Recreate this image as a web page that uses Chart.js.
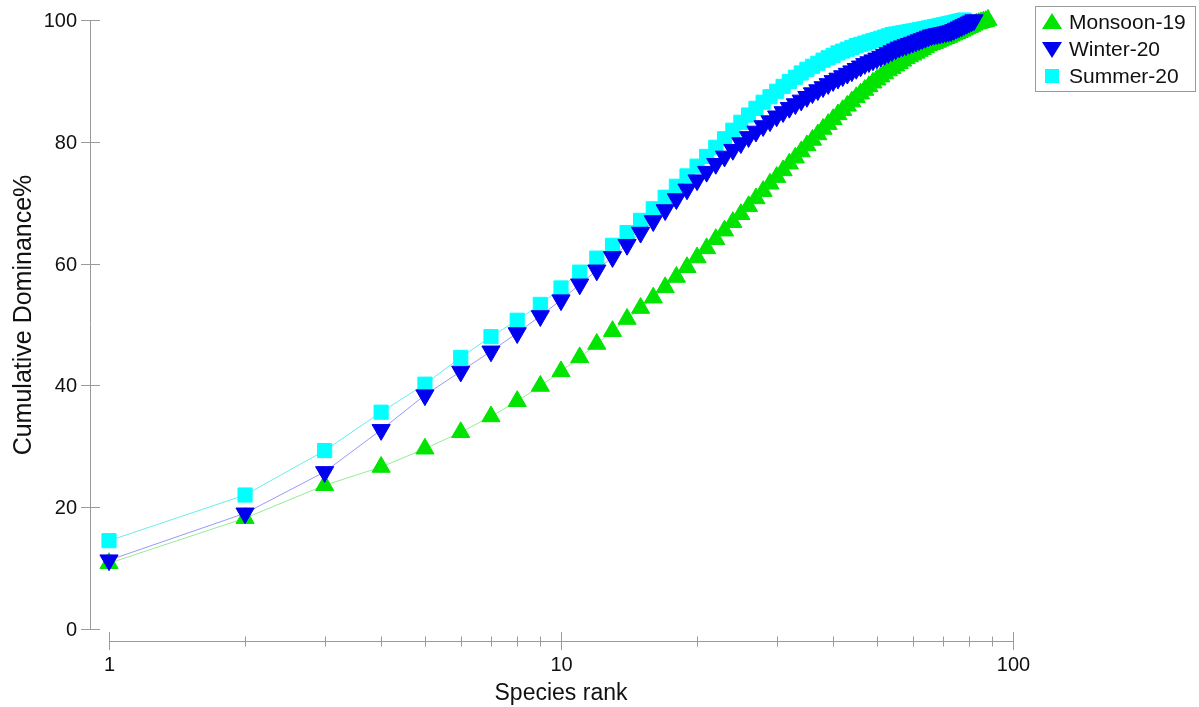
<!DOCTYPE html>
<html>
<head>
<meta charset="utf-8">
<script src="https://cdn.jsdelivr.net/npm/chart.js@4.4.1/dist/chart.umd.min.js"></script>
<style>
  html, body { margin: 0; padding: 0; background: #ffffff; }
  #wrap { width: 1199px; height: 707px; }
</style>
</head>
<body>
<div id="wrap"><canvas id="c" width="1199" height="707"></canvas></div>
<script>
// ---- data ----
const seriesNames = ["Monsoon-19", "Winter-20", "Summer-20"];

const monsoon19 = [10.8, 18.2, 23.6, 26.6, 29.6, 32.3, 34.9, 37.4, 39.9, 42.3,
  44.6, 46.8, 48.9, 50.9, 52.7, 54.4, 56.1, 57.8, 59.4, 61.0,
  62.5, 64.0, 65.4, 66.8, 68.1, 69.4, 70.7, 71.9, 73.1, 74.2,
  75.3, 76.4, 77.4, 78.4, 79.4, 80.3, 81.2, 82.1, 82.9, 83.7,
  84.5, 85.2, 85.9, 86.6, 87.3, 87.9, 88.5, 89.1, 89.7, 90.2,
  90.7, 91.2, 91.7, 92.1, 92.5, 92.9, 93.3, 93.7, 94.0, 94.3,
  94.6, 94.9, 95.2, 95.5, 95.8, 96.0, 96.2, 96.4, 96.6, 96.8,
  97.0, 97.2, 97.4, 97.6, 97.8, 98.0, 98.2, 98.4, 98.6, 98.8,
  99.0, 99.2, 99.4, 99.5, 99.6, 99.7, 99.8, 100];

const winter20 = [11.3, 19.0, 25.8, 32.7, 38.4, 42.3, 45.6, 48.6, 51.4, 54.0,
  56.6, 58.9, 61.1, 63.1, 65.1, 67.0, 68.8, 70.6, 72.2, 73.7,
  75.1, 76.4, 77.6, 78.7, 79.8, 80.8, 81.7, 82.6, 83.4, 84.2,
  84.9, 85.6, 86.2, 86.8, 87.4, 88.0, 88.5, 89.0, 89.5, 90.0,
  90.4, 90.8, 91.2, 91.6, 92.0, 92.4, 92.8, 93.1, 93.4, 93.7,
  94.0, 94.3, 94.6, 94.9, 95.2, 95.5, 95.7, 95.9, 96.1, 96.3,
  96.5, 96.7, 96.9, 97.1, 97.3, 97.5, 97.6, 97.7, 97.8, 97.9,
  98.0, 98.1, 98.2, 98.4, 98.6, 98.8, 99.0, 99.2, 99.4, 99.6,
  99.8, 100];

const summer20 = [14.5, 22.0, 29.3, 35.6, 40.2, 44.6, 48.0, 50.7, 53.3, 56.0,
  58.6, 60.9, 63.0, 65.1, 67.1, 69.0, 70.9, 72.7, 74.4, 76.0,
  77.6, 79.1, 80.5, 81.9, 83.2, 84.4, 85.5, 86.5, 87.4, 88.3,
  89.1, 89.9, 90.6, 91.3, 91.9, 92.4, 92.9, 93.4, 93.8, 94.2,
  94.6, 94.9, 95.2, 95.5, 95.8, 96.0, 96.2, 96.4, 96.6, 96.8,
  97.0, 97.2, 97.4, 97.6, 97.7, 97.8, 97.9, 98.0, 98.1, 98.2,
  98.3, 98.4, 98.5, 98.6, 98.7, 98.8, 98.9, 99.0, 99.1, 99.2,
  99.3, 99.4, 99.5, 99.6, 99.7, 99.8, 99.9, 100];

const yTicks = [0, 20, 40, 60, 80, 100];
const xMajorTicks = [1, 10, 100];
const xMinorTicks = [2, 3, 4, 5, 6, 7, 8, 9, 20, 30, 40, 50, 60, 70, 80, 90];
const xTitle = "Species rank";
const yTitle = "Cumulative Dominance%";

// ---- helpers ----
function toPoints(values) {
  return values.map((v, i) => ({ x: i + 1, y: v }));
}

const FONT = '"Liberation Sans", Arial, Helvetica, sans-serif';
const GREEN = '#00e400';
const BLUE = '#0000f0';
const CYAN = '#00ffff';
const AXIS = '#9a9a9a';

const axesPlugin = {
  id: 'customAxes',
  beforeDatasetsDraw(chart) {
    const ctx = chart.ctx;
    const xs = chart.scales.x, ys = chart.scales.y;
    const area = chart.chartArea;
    const yAxisX = area.left - 19;
    const xAxisY = area.bottom + 12;
    ctx.save();
    ctx.strokeStyle = AXIS;
    ctx.lineWidth = 1;
    // y axis line
    ctx.beginPath();
    ctx.moveTo(yAxisX + 0.5, ys.getPixelForValue(100));
    ctx.lineTo(yAxisX + 0.5, ys.getPixelForValue(0));
    ctx.stroke();
    // y ticks
    ctx.fillStyle = '#111';
    ctx.font = '20px ' + FONT;
    ctx.textAlign = 'right';
    ctx.textBaseline = 'middle';
    yTicks.forEach(t => {
      const py = Math.round(ys.getPixelForValue(t)) + 0.5;
      ctx.beginPath();
      ctx.moveTo(yAxisX - 9, py);
      ctx.lineTo(yAxisX + 10, py);
      ctx.stroke();
      ctx.fillText(String(t), yAxisX - 13, py + 1);
    });
    // x axis line
    ctx.beginPath();
    ctx.moveTo(xs.getPixelForValue(1), xAxisY + 0.5);
    ctx.lineTo(xs.getPixelForValue(100), xAxisY + 0.5);
    ctx.stroke();
    xMinorTicks.forEach(t => {
      const px = Math.round(xs.getPixelForValue(t)) + 0.5;
      ctx.beginPath();
      ctx.moveTo(px, xAxisY - 4.5);
      ctx.lineTo(px, xAxisY + 5.5);
      ctx.stroke();
    });
    ctx.textAlign = 'center';
    ctx.textBaseline = 'alphabetic';
    xMajorTicks.forEach(t => {
      const px = Math.round(xs.getPixelForValue(t)) + 0.5;
      ctx.beginPath();
      ctx.moveTo(px, xAxisY - 9);
      ctx.lineTo(px, xAxisY + 9);
      ctx.stroke();
      ctx.fillText(String(t), px, 671);
    });
    // titles
    ctx.font = '23px ' + FONT;
    ctx.fillText(xTitle, (xs.getPixelForValue(1) + xs.getPixelForValue(100)) / 2, 700);
    ctx.save();
    ctx.translate(31, 315);
    ctx.rotate(-Math.PI / 2);
    ctx.font = '25px ' + FONT;
    ctx.textAlign = 'center';
    ctx.textBaseline = 'alphabetic';
    ctx.fillText(yTitle, 0, 0);
    ctx.restore();
    ctx.restore();
  },
  afterDraw(chart) {
    const ctx = chart.ctx;
    ctx.save();
    // legend box
    ctx.strokeStyle = AXIS;
    ctx.lineWidth = 1;
    ctx.strokeRect(1035.5, 6.5, 160, 85);
    const rows = [22, 49, 76];
    const mx = 1052;
    // up triangle
    ctx.fillStyle = GREEN;
    ctx.beginPath();
    ctx.moveTo(mx, rows[0] - 9);
    ctx.lineTo(mx + 10, rows[0] + 7);
    ctx.lineTo(mx - 10, rows[0] + 7);
    ctx.closePath();
    ctx.fill();
    // down triangle
    ctx.fillStyle = BLUE;
    ctx.beginPath();
    ctx.moveTo(mx - 10, rows[1] - 7);
    ctx.lineTo(mx + 10, rows[1] - 7);
    ctx.lineTo(mx, rows[1] + 9);
    ctx.closePath();
    ctx.fill();
    // square
    ctx.fillStyle = CYAN;
    ctx.fillRect(mx - 7, rows[2] - 7, 14, 14);
    ctx.fillStyle = '#111';
    ctx.font = '21px ' + FONT;
    ctx.textAlign = 'left';
    ctx.textBaseline = 'middle';
    seriesNames.forEach((n, i) => ctx.fillText(n, 1069, rows[i] + 1));
    ctx.restore();
  }
};

new Chart(document.getElementById('c'), {
  type: 'line',
  data: {
    datasets: [
      {
        label: seriesNames[1],
        data: toPoints(winter20),
        borderColor: 'rgba(70,70,240,0.55)',
        borderWidth: 1,
        backgroundColor: BLUE,
        pointBackgroundColor: BLUE,
        pointBorderColor: BLUE,
        pointBorderWidth: 1,
        pointStyle: 'triangle',
        pointRotation: 180,
        pointRadius: 10.5,
        order: 0,
        clip: false
      },
      {
        label: seriesNames[2],
        data: toPoints(summer20),
        borderColor: 'rgba(0,225,225,0.6)',
        borderWidth: 1,
        backgroundColor: CYAN,
        pointBackgroundColor: CYAN,
        pointBorderColor: CYAN,
        pointBorderWidth: 1,
        pointStyle: 'rect',
        pointRadius: 10,
        order: 1,
        clip: false
      },
      {
        label: seriesNames[0],
        data: toPoints(monsoon19),
        borderColor: 'rgba(60,220,60,0.55)',
        borderWidth: 1,
        backgroundColor: GREEN,
        pointBackgroundColor: GREEN,
        pointBorderColor: GREEN,
        pointBorderWidth: 1,
        pointStyle: 'triangle',
        pointRadius: 10.5,
        order: 2,
        clip: false
      }
    ]
  },
  options: {
    responsive: false,
    animation: false,
    events: [],
    layout: { padding: { left: 109, right: 186, top: 20, bottom: 78 } },
    plugins: { legend: { display: false }, tooltip: { enabled: false }, title: { display: false } },
    scales: {
      x: { type: 'logarithmic', min: 1, max: 100, display: false },
      y: { type: 'linear', min: 0, max: 100, display: false }
    }
  },
  plugins: [axesPlugin]
});
</script>
</body>
</html>
